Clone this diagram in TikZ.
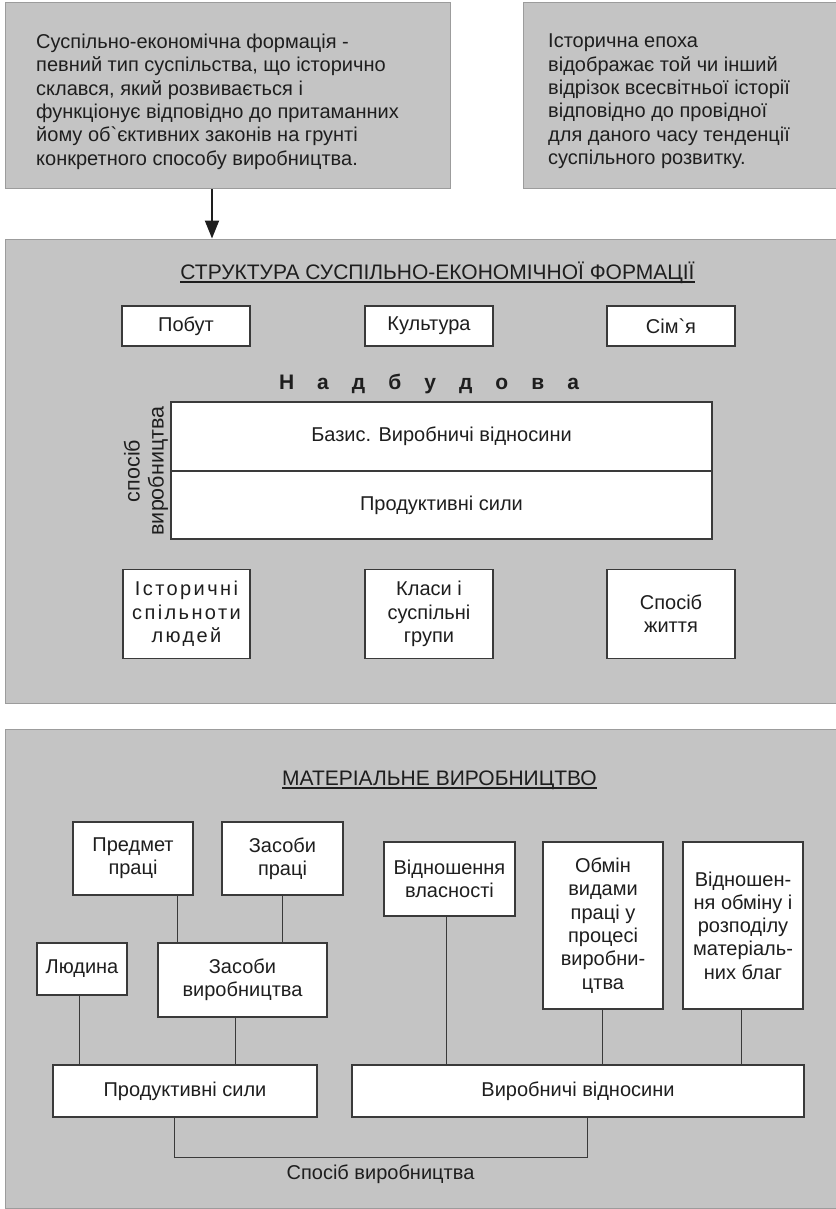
\documentclass[tikz,border=0pt]{standalone}
\usepackage{fontspec}
\setmainfont{Liberation Sans}
\newfontfamily\spacedfont[LetterSpace=82]{Liberation Sans}
\newfontfamily\loosefont[LetterSpace=12]{Liberation Sans}
\usepackage{xcolor}
\usepackage{tikz}
\usetikzlibrary{positioning, arrows.meta}
\definecolor{PanelGry}{HTML}{C4C4C4}
\definecolor{EdgeGry} {HTML}{9C9C9C}
\definecolor{BoxEdge} {HTML}{3A3A3A}
\definecolor{InkGry}  {HTML}{1E1E1E}
\newcommand\cellfont{\fontsize{20}{23.3}\selectfont}
\newcommand\headfont{\fontsize{21}{25}\selectfont}

\begin{document}
\begin{tikzpicture}[x=1pt, y=-1pt,
    panel/.style={draw=EdgeGry, line width=1pt, fill=PanelGry, inner sep=0pt},
    cell/.style={draw=BoxEdge, line width=1.2pt, fill=white, align=center,
                 inner sep=2pt, font=\cellfont, text=InkGry},
    prose/.style={align=left, inner sep=0pt, font=\cellfont, text=InkGry},
    heading/.style={inner sep=0pt, font=\headfont, text=InkGry},
    link/.style={BoxEdge, line width=1pt},
    pointer/.style={InkGry, line width=2pt, -{Triangle[width=14pt,length=18pt]}}]
      \useasboundingbox (0,0) rectangle (835,1209);
      % ── definitions on top ───────────────────────────────────────────────────
      \node[panel, minimum width=445pt, minimum height=186pt] (formbox) at (227.5,96) {};
      \node[panel, minimum width=313pt, minimum height=186pt] (epochbox) at (679.5,96) {};
      \node[prose, anchor=north west] (formtext) at (36,34)
        {Суспільно-економічна формація -\\
         певний тип суспільства, що історично\\
         склався, який розвивається і\\
         функціонує відповідно до притаманних\\
         йому об\textasciigrave єктивних законів на грунті\\
         конкретного способу виробництва.};
      \node[prose, anchor=north west] (epochtext) at (548,34)
        {Історична епоха\\
         відображає той чи інший\\
         відрізок всесвітньої історії\\
         відповідно до провідної\\
         для даного часу тенденції\\
         суспільного розвитку.};
      % ── panel: structure of the formation ────────────────────────────────────
      \node[panel, minimum width=831pt, minimum height=464pt] (struct) at (420.5,471) {};
      \draw[pointer] ([xshift=-15.5pt]formbox.south) -- ([xshift=-15.5pt]formbox.south |- struct.north);
      \node[heading, anchor=base] (structtitle) at (437.5,279)
        {СТРУКТУРА СУСПІЛЬНО-ЕКОНОМІЧНОЇ ФОРМАЦІЇ};
      \draw[InkGry, line width=1.2pt] ([yshift=-3pt]structtitle.base west) -- ([yshift=-3pt]structtitle.base east);
      \foreach \x/\name/\lab in {186/pobut/Побут, 429/kultura/Культура, 671/simya/Сім\textasciigrave я} {
        \node[cell, minimum width=128pt, minimum height=40pt] (\name) at (\x,326) {\lab};
      }
      \node[heading, font=\headfont\spacedfont\bfseries] (nadbud) at (429,384) {Н а д б у д о в а};
      \node[cell, minimum width=541pt, minimum height=69pt] (basis) at (441.5,436.5)
        {Базис. Виробничі відносини};
      \node[cell, minimum width=541pt, minimum height=68pt] (prodf) at (441.5,505)
        {Продуктивні сили};
      \node[prose, align=center, rotate=90, font=\fontsize{21.5}{24}\selectfont] (sposib) at (146,471)
        {спосіб\\виробництва};
      \node[cell, minimum width=127pt, minimum height=89pt, font=\cellfont\loosefont] (spilnoty) at (186.5,614)
        {Історичні\\спільноти\\людей};
      \node[cell, minimum width=128pt, minimum height=89pt] (klasy) at (429,614)
        {Класи і\\суспільні\\групи};
      \node[cell, minimum width=128pt, minimum height=89pt] (zhyttya) at (671,614)
        {Спосіб\\життя};
      % ── panel: material production ───────────────────────────────────────────
      \node[panel, minimum width=831pt, minimum height=479pt] (matpanel) at (420.5,968.5) {};
      \node[heading, anchor=base] (mattitle) at (439.5,785) {МАТЕРІАЛЬНЕ ВИРОБНИЦТВО};
      \draw[InkGry, line width=1.2pt] ([yshift=-3pt]mattitle.base west) -- ([yshift=-3pt]mattitle.base east);
      \node[cell, minimum width=120pt, minimum height=73pt] (predmet) at (133,858.5) {Предмет\\праці};
      \node[cell, minimum width=121pt, minimum height=73pt] (zpraci) at (282.5,858.5) {Засоби\\праці};
      \node[cell, minimum width=131pt, minimum height=74pt] (vlasn) at (449.5,879) {Відношення\\власності};
      \node[cell, minimum width=120pt, minimum height=167pt] (obmin) at (603,925.5)
        {Обмін\\видами\\праці у\\процесі\\виробни-\\цтва};
      \node[cell, minimum width=120pt, minimum height=167pt] (rozpod) at (743,925.5)
        {Відношен-\\ня обміну і\\розподілу\\матеріаль-\\них благ};
      \node[cell, minimum width=90pt, minimum height=52pt] (lyudyna) at (82,969) {Людина};
      \node[cell, minimum width=169pt, minimum height=74pt] (zvyrob) at (242.5,980) {Засоби\\виробництва};
      \node[cell, minimum width=264pt, minimum height=52pt] (prodsyly) at (185,1091) {Продуктивні сили};
      \node[cell, minimum width=452pt, minimum height=52pt] (vyrvidn) at (578,1091) {Виробничі відносини};
      % ── connectors ───────────────────────────────────────────────────────────
      \draw[link] ([xshift=-16pt]predmet.south east) -- ([xshift=-16pt]predmet.south east |- zvyrob.north);
      \draw[link] (zpraci.south) -- (zpraci.south |- zvyrob.north);
      \draw[link] ([xshift=-3pt]lyudyna.south) -- ([xshift=-3pt]lyudyna.south |- prodsyly.north);
      \draw[link] ([xshift=-7.5pt]zvyrob.south) -- ([xshift=-7.5pt]zvyrob.south |- prodsyly.north);
      \draw[link] ([xshift=-3.5pt]vlasn.south) -- ([xshift=-3.5pt]vlasn.south |- vyrvidn.north);
      \draw[link] ([xshift=-1pt]obmin.south) -- ([xshift=-1pt]obmin.south |- vyrvidn.north);
      \draw[link] ([xshift=-2pt]rozpod.south) -- ([xshift=-2pt]rozpod.south |- vyrvidn.north);
      \draw[link] ([xshift=-11pt]prodsyly.south) -- ++(0,40) -| ([xshift=9pt]vyrvidn.south)
        node[pos=0.25, below=3pt, font=\cellfont, text=InkGry] (sposibvyr) {Спосіб виробництва};
    \end{tikzpicture}
\end{document}
